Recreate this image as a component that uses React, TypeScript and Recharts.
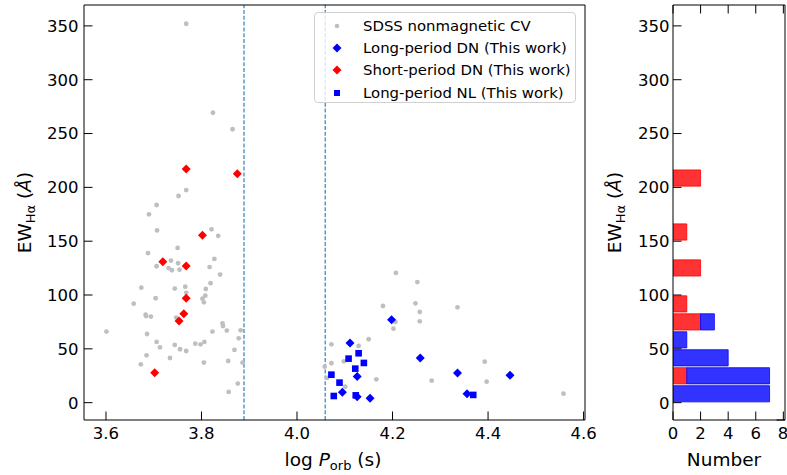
import React from 'react';
import {
  ScatterChart,
  Scatter,
  BarChart,
  Bar,
  XAxis,
  YAxis,
  ReferenceLine
} from 'recharts';

// SDSS nonmagnetic CVs (log P_orb, EW Hα)
const SDSS_LOGP = [
  3.768, 3.824, 3.865, 3.768, 3.752, 3.706, 3.690, 3.707, 3.821, 3.835, 3.688, 3.750, 3.736, 3.751,
  3.706, 3.731, 3.738, 3.754, 3.827, 3.817, 3.839, 3.819, 3.809, 3.808, 3.802, 3.805, 3.766, 3.768,
  3.744, 3.674, 3.704, 3.658, 3.601, 3.683, 3.684, 3.694, 3.747, 3.686, 3.706, 3.713, 3.685, 3.673,
  3.744, 3.755, 3.768, 3.734, 3.787, 3.798, 3.806, 3.823, 3.844, 3.845, 3.853, 3.882, 3.878, 3.869,
  3.856, 3.886, 3.805, 3.876, 3.857,
  4.072, 4.072, 4.058, 4.063, 4.207, 4.252, 4.180, 4.248, 4.257, 4.336, 4.257, 4.206, 4.202, 4.150,
  4.129, 4.098, 4.166, 4.101, 4.282, 4.393, 4.397, 4.558
];
const SDSS_EW = [
  352, 269.3, 254, 197.5, 192, 183.6, 175, 160, 161, 155, 139, 143.7, 132, 129.5,
  126.7, 125, 123, 123.5, 133.5, 126, 119, 111, 105.6, 99.4, 96.6, 93.2, 107.7, 102,
  106, 106.8, 97, 92, 66, 81.7, 80.5, 80, 79, 63.8, 56.4, 51.4, 44, 35.6,
  53.6, 49.6, 48, 41.5, 54.8, 54.2, 56.4, 66, 73.7, 71.2, 67, 67.2, 59.8, 49,
  38.7, 37.2, 37.2, 17.7, 10,
  54.2, 36.6, 33.4, 23, 120.5, 112, 89.8, 92.3, 84.2, 88.6, 75.6, 75, 68.7, 58.9,
  52.7, 38.4, 21.7, 14.9, 20.4, 38.1, 19.5, 8.4
];

// Long-period DN (this work)
const LDN_LOGP = [4.198, 4.111, 4.258, 4.126, 4.095, 4.153, 4.336, 4.446, 4.356, 4.126];
const LDN_EW = [77.1, 55.4, 41.5, 24.2, 9.7, 4.1, 27.6, 25.4, 8.4, 5.6];

// Short-period DN (this work)
const SDN_LOGP = [3.802, 3.719, 3.768, 3.768, 3.763, 3.753, 3.702, 3.768, 3.875];
const SDN_EW = [155.5, 131, 127, 97, 82.7, 75.9, 27.9, 217, 212.7];

// Long-period NL (this work)
const LNL_LOGP = [4.072, 4.089, 4.077, 4.108, 4.129, 4.140, 4.122, 4.123, 4.369];
const LNL_EW = [26, 18.6, 6.2, 40.9, 45.9, 36.9, 31.6, 6.8, 7.2];

// period gap boundaries
const GAP_LINES = [3.889, 4.059];

const X_TICKS = [3.6, 3.8, 4.0, 4.2, 4.4, 4.6];
const Y_TICKS = [0, 50, 100, 150, 200, 250, 300, 350];
const N_TICKS = [0, 2, 4, 6, 8];
const BIN_EDGES = [0, 16.7, 33.4, 50.1, 66.8, 83.5, 100.2, 116.9, 133.6, 150.3, 167.0, 183.7, 200.4, 217.1];

const X_DOMAIN = [3.554, 4.603];
const Y_DOMAIN = [-16.1, 369.4];
const N_DOMAIN = [0, 8.12];

const FONT = '"DejaVu Sans", sans-serif';
const GRAY = '#bfbfbf';

const toPoints = (xs: number[], ys: number[]) => xs.map((x, i) => ({ x, y: ys[i] }));

const sdss = toPoints(SDSS_LOGP, SDSS_EW);
const longDN = toPoints(LDN_LOGP, LDN_EW);
const shortDN = toPoints(SDN_LOGP, SDN_EW);
const longNL = toPoints(LNL_LOGP, LNL_EW);

const countIn = (vals: number[], lo: number, hi: number, last: boolean) =>
  vals.filter(v => v >= lo && (last ? v <= hi : v < hi)).length;

// stacked histogram: short-period DN first, long-period systems on top
const histData = BIN_EDGES.slice(0, -1).map((lo, i) => {
  const hi = BIN_EDGES[i + 1];
  const last = i === BIN_EDGES.length - 2;
  return {
    mid: (lo + hi) / 2,
    red: countIn(SDN_EW, lo, hi, last),
    blue: countIn([...LDN_EW, ...LNL_EW], lo, hi, last)
  };
});

const dot = (color: string, r: number) => (p: any) =>
  <circle cx={p.cx} cy={p.cy} r={r} fill={color} />;
const diamond = (color: string, h: number) => (p: any) =>
  <polygon points={`${p.cx},${p.cy - h} ${p.cx + h},${p.cy} ${p.cx},${p.cy + h} ${p.cx - h},${p.cy}`} fill={color} />;
const square = (color: string, h: number) => (p: any) =>
  <rect x={p.cx - h} y={p.cy - h} width={2 * h} height={2 * h} fill={color} />;

const LEGEND_ROWS = [
  { label: 'SDSS nonmagnetic CV', shape: 'dot', color: GRAY },
  { label: 'Long-period DN (This work)', shape: 'diamond', color: '#0000ff' },
  { label: 'Short-period DN (This work)', shape: 'diamond', color: '#ff0000' },
  { label: 'Long-period NL (This work)', shape: 'square', color: '#0000ff' }
];

const LegendBox = () => (
  <div style={{
    position: 'absolute', left: 314, top: 12, width: 262, height: 91,
    background: 'rgba(255,255,255,0.8)', border: '1px solid #d0d0d0', borderRadius: 4,
    padding: '2px 0 0 14px', fontFamily: FONT, fontSize: 14.9, color: '#000', boxSizing: 'border-box'
  }}>
    {LEGEND_ROWS.map(r => (
      <div key={r.label} style={{ display: 'flex', alignItems: 'center', height: 22.2 }}>
        <svg width={16} height={12} style={{ marginRight: 18 }}>
          {r.shape === 'dot' && <circle cx={8} cy={6} r={2.3} fill={r.color} />}
          {r.shape === 'diamond' && <polygon points="8,1.5 12.5,6 8,10.5 3.5,6" fill={r.color} />}
          {r.shape === 'square' && <rect x={5} y={3} width={6} height={6} fill={r.color} />}
        </svg>
        <span>{r.label}</span>
      </div>
    ))}
  </div>
);

const EwLabel = (props: any) => {
  const vb = props.viewBox;
  const x = vb.x + 31;
  const y = vb.y + vb.height / 2;
  return (
    <text x={x} y={y} transform={`rotate(-90 ${x} ${y})`} textAnchor="middle"
      fontSize={18.5} fontFamily={FONT} fill="#000">
      EW<tspan dy={4} fontSize={13}>Hα</tspan><tspan dy={-4}> (</tspan>
      <tspan fontStyle="italic">Å</tspan>)
    </text>
  );
};

const PorbLabel = () => (
  <text x={333} y={466} textAnchor="middle" fontSize={18.5} fontFamily={FONT} fill="#000">
    log <tspan fontStyle="italic">P</tspan><tspan dy={4} fontSize={13}>orb</tspan>
    <tspan dy={-4}> (s)</tspan>
  </text>
);

const NumberLabel = () => (
  <text x={134} y={466} textAnchor="middle" fontSize={18.5} fontFamily={FONT} fill="#000">Number</text>
);

const tickStyle = { fontSize: 16.5, fontFamily: FONT, fill: '#000' };
const axisLine = { stroke: '#000', strokeWidth: 1 };
const tickLine = { stroke: '#000', strokeWidth: 1 };
const blank = () => '';

export default function App() {
  return (
    <div style={{ position: 'absolute', left: 0, top: 0, width: 787, height: 475, background: '#fff' }}>
      <div style={{ position: 'absolute', left: 0, top: 0 }}>
        <ScatterChart width={600} height={475} margin={{ top: 4, right: 14, bottom: 0, left: 0 }}>
          <XAxis type="number" dataKey="x" domain={X_DOMAIN} allowDataOverflow ticks={X_TICKS}
            tickFormatter={(v: number) => v.toFixed(1)} height={55} tick={tickStyle}
            tickSize={-8.5} tickMargin={16} axisLine={axisLine} tickLine={tickLine}
            label={{ content: <PorbLabel /> }} />
          <XAxis xAxisId="top" orientation="top" type="number" domain={X_DOMAIN} allowDataOverflow
            ticks={X_TICKS} tickFormatter={blank} height={1} tickSize={-8.5}
            axisLine={axisLine} tickLine={tickLine} />
          <YAxis type="number" dataKey="y" domain={Y_DOMAIN} allowDataOverflow ticks={Y_TICKS}
            width={84} tick={tickStyle} tickSize={-8.5} tickMargin={14}
            axisLine={axisLine} tickLine={tickLine} label={{ content: EwLabel }} />
          <YAxis yAxisId="right" orientation="right" type="number" domain={Y_DOMAIN} allowDataOverflow
            width={1} tick={false} tickLine={false} axisLine={axisLine} />
          {GAP_LINES.map(g => (
            <ReferenceLine key={g} x={g} stroke="#1f77b4" strokeWidth={1.1} strokeDasharray="4 1.8" />
          ))}
          <Scatter name="SDSS nonmagnetic CV" data={sdss} shape={dot(GRAY, 2.4)} isAnimationActive={false} />
          <Scatter name="Long-period DN (This work)" data={longDN} shape={diamond('#0000ff', 4.5)} isAnimationActive={false} />
          <Scatter name="Short-period DN (This work)" data={shortDN} shape={diamond('#ff0000', 4.5)} isAnimationActive={false} />
          <Scatter name="Long-period NL (This work)" data={longNL} shape={square('#0000ff', 3.3)} isAnimationActive={false} />
        </ScatterChart>
      </div>
      <LegendBox />
      <div style={{ position: 'absolute', left: 590, top: 0 }}>
        <BarChart layout="vertical" width={197} height={475} data={histData}
          margin={{ top: 4, right: 1, bottom: 0, left: 0 }} barCategoryGap={0}>
          <XAxis type="number" domain={N_DOMAIN} allowDataOverflow ticks={N_TICKS} height={55}
            tick={tickStyle} tickSize={-8.5} tickMargin={16} axisLine={axisLine} tickLine={tickLine}
            label={{ content: <NumberLabel /> }} />
          <XAxis xAxisId="top" orientation="top" type="number" domain={N_DOMAIN} allowDataOverflow
            ticks={N_TICKS} tickFormatter={blank} height={1} tickSize={-8.5}
            axisLine={axisLine} tickLine={tickLine} />
          <YAxis type="number" dataKey="mid" domain={Y_DOMAIN} allowDataOverflow ticks={Y_TICKS} reversed
            width={83} tick={tickStyle} tickSize={-8.5} tickMargin={12}
            axisLine={axisLine} tickLine={tickLine} label={{ content: EwLabel }} />
          <YAxis yAxisId="right" orientation="right" type="number" domain={Y_DOMAIN} allowDataOverflow reversed
            ticks={Y_TICKS} width={1} tickFormatter={blank} tickSize={-8.5}
            axisLine={axisLine} tickLine={tickLine} />
          <Bar dataKey="red" stackId="h" barSize={19} fill="#ff3333" stroke="#ff0000" strokeWidth={0.8} isAnimationActive={false} />
          <Bar dataKey="blue" stackId="h" barSize={19} fill="#3333ff" stroke="#0000ff" strokeWidth={0.8} isAnimationActive={false} />
        </BarChart>
      </div>
    </div>
  );
}
